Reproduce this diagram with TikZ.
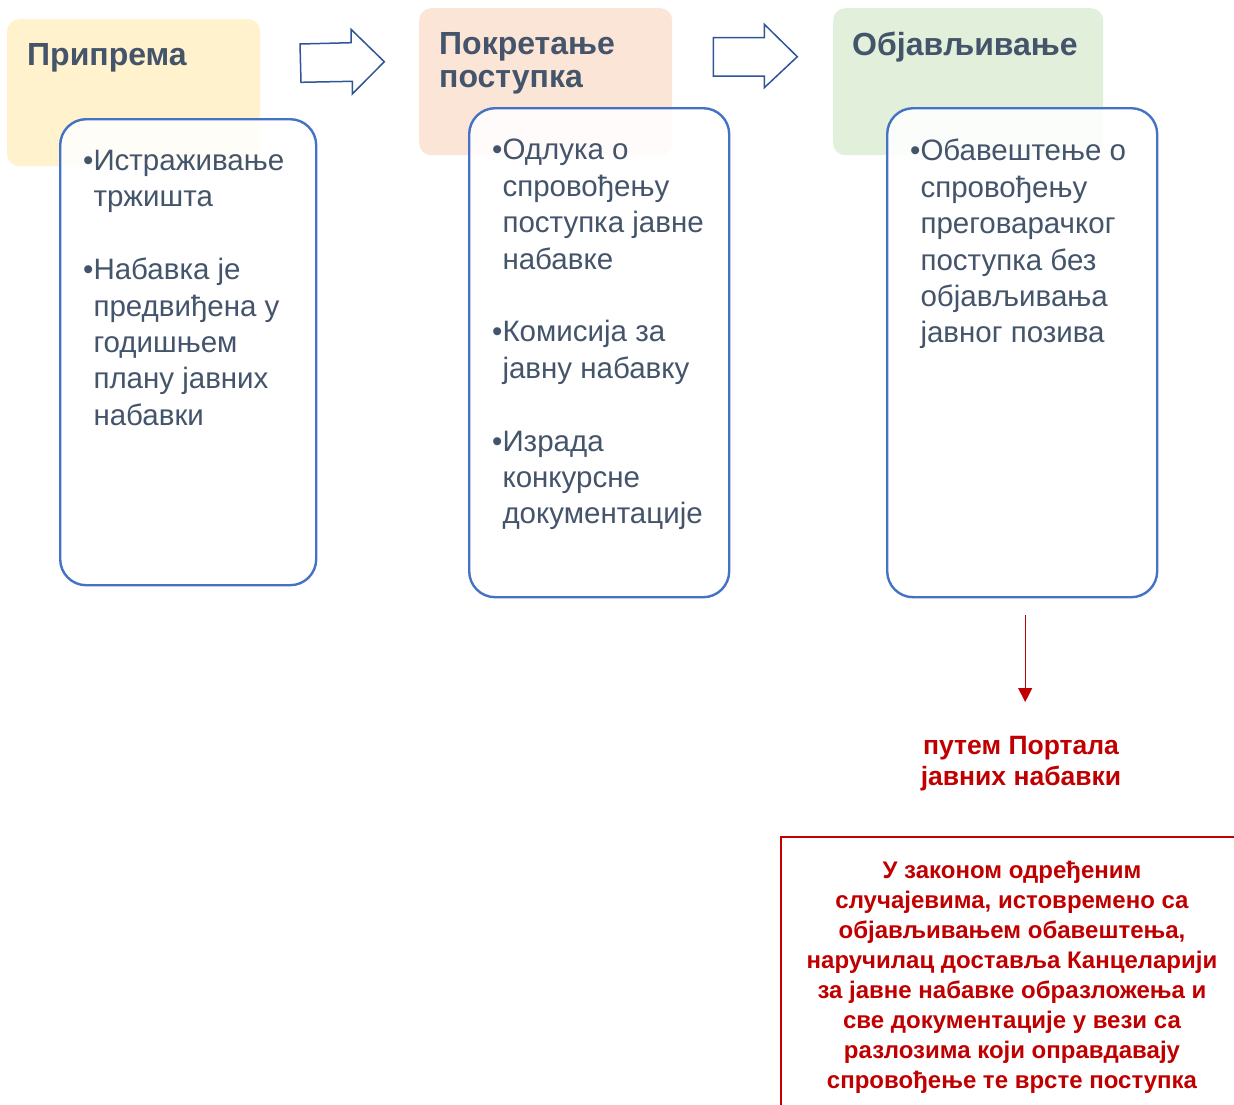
\documentclass[tikz,border=0pt]{standalone}
\usepackage{fontspec}
\setmainfont{Liberation Sans}
\usetikzlibrary{arrows.meta}
\definecolor{slate}{HTML}{44546A}
\definecolor{phaseYellow}{HTML}{FFF2CC}
\definecolor{phasePeach}{HTML}{FBE5D6}
\definecolor{phaseGreen}{HTML}{E2EFDA}
\definecolor{boxblue}{HTML}{4472C4}
\definecolor{arrowblue}{HTML}{2F5597}
\definecolor{darkred}{HTML}{C00000}
\tikzset{
  phase/.style = {rounded corners=12pt, anchor=north west, inner sep=0pt, minimum height=147pt},
  listbox/.style = {draw=boxblue, line width=2.4pt, fill=white, fill opacity=0.88,
    rounded corners=26pt, anchor=north west, inner sep=0pt},
  title/.style = {font=\bfseries\fontsize{32}{33}\selectfont, text=slate, align=left,
    inner sep=0pt, anchor=north west},
  bodytxt/.style = {font=\fontsize{29.5}{36.4}\selectfont, text=slate, align=left,
    inner sep=0pt, anchor=north west},
  redtxt/.style = {font=\bfseries\fontsize{24}{30}\selectfont, text=darkred, align=center,
    inner sep=0pt, anchor=north},
  blockarrow/.style = {draw=arrowblue, line width=1.5pt, fill=white, line join=miter}
}
\tikzset{>={Triangle[width=14pt,length=14pt]}}

\begin{document}
\begin{tikzpicture}[x=1pt,y=-1pt]
  \useasboundingbox (0,0) rectangle (1234,1104);
  \def\Ind{\phantom{•}}
  \def\ParGap{36.4pt}
  % phases
  \node[phase, fill=phaseYellow, minimum width=253pt] (phase1) at (7,19) {};
  \node[phase, fill=phasePeach, minimum width=253pt] (phase2) at (419,8) {};
  \node[phase, fill=phaseGreen, minimum width=270pt] (phase3) at (833,8) {};
  \node[title] (title1) at (27,43) {Припрема};
  \node[title] (title2) at (439,32) {Покретање\\поступка};
  \node[title] (title3) at (852,32) {Објављивање};
  % block arrows
  \draw[blockarrow] (300,44)--(351,42.7)--(351,29.3)--(384.3,61.7)--(352.3,94)--(352.3,81.3)--(301,82.3)--cycle;
  \draw[blockarrow] (713.3,37.7)--(764.3,37.7)--(764.3,24.3)--(797.3,56.7)--(764.3,87.7)--(764.3,76)--(713.3,76)--cycle;
  % lists
  \node[listbox, minimum width=256pt, minimum height=466pt] (list1) at (59,118) {};
  \node[listbox, minimum width=260pt, minimum height=489pt] (list2) at (468,107) {};
  \node[listbox, minimum width=270pt, minimum height=489pt] (list3) at (886,107) {};
  \node[bodytxt] (txt1) at (83,150) {•Истраживање\\\Ind тржишта\\[\ParGap]•Набавка је\\\Ind предвиђена у\\\Ind годишњем\\\Ind плану јавних\\\Ind набавки};
  \node[bodytxt] (txt2) at (492,139) {•Одлука о\\\Ind спровођењу\\\Ind поступка јавне\\\Ind набавке\\[\ParGap]•Комисија за\\\Ind јавну набавку\\[\ParGap]•Израда\\\Ind конкурсне\\\Ind документације};
  \node[bodytxt] (txt3) at (910,139) {•Обавештење о\\\Ind спровођењу\\\Ind преговарачког\\\Ind поступка без\\\Ind објављивања\\\Ind јавног позива};
  % portal
  \node[redtxt, font=\bfseries\fontsize{26.5}{31}\selectfont] (portal) at (1021,736) {путем Портала\\јавних набавки};
  \draw[->, darkred, line width=1.2pt, shorten <=17pt, shorten >=34pt] ([xshift=3pt]list3.south) -- ([xshift=3pt]list3.south |- portal.north);
  % note
  \draw[darkred, line width=2pt] (781,837) rectangle (1250,1120);
  \node[redtxt] (note) at (1012,861) {У законом одређеним\\случајевима, истовремено са\\објављивањем обавештења,\\наручилац доставља Канцеларији\\за јавне набавке образложења и\\све документације у вези са\\разлозима који оправдавају\\спровођење те врсте поступка};
\end{tikzpicture}
\end{document}
